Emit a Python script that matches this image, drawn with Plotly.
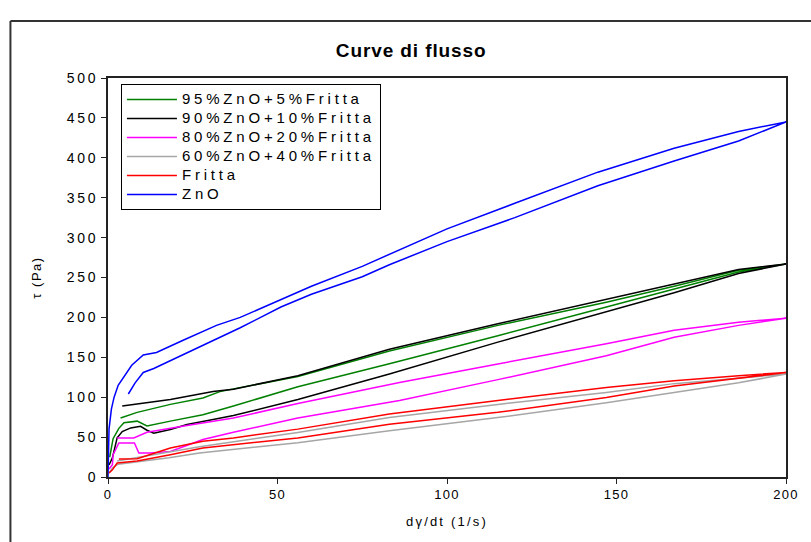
import plotly.graph_objects as go

# Flow curves (shear stress vs shear rate), each measured up to 200 1/s and back down.
# Up-ramp and down-ramp values are kept separately for every sample.

series_names = [
    "95%ZnO+5%Fritta",
    "90%ZnO+10%Fritta",
    "80%ZnO+20%Fritta",
    "60%ZnO+40%Fritta",
    "Fritta",
    "ZnO",
]
series_colors = ["#008000", "#000000", "#ff00ff", "#a6a6a6", "#ff0000", "#0000ff"]

# 95% ZnO + 5% Fritta
zf5_up_x = [0.5, 1.5, 3.2, 4.7, 8.6, 11.5, 18.4, 28, 37, 56, 83, 115, 147, 167, 186, 200]
zf5_up_y = [25, 48, 61, 68, 70, 64, 70, 78, 89, 113, 142, 177, 213, 236, 257, 267]
zf5_dn_x = [200, 186, 167, 147, 115, 83, 56, 33, 28, 18.4, 8.6, 3.7]
zf5_dn_y = [267, 259, 239, 219, 190, 158, 126, 107, 99, 91, 81, 74]

# 90% ZnO + 10% Fritta
zf10_up_x = [0.3, 1.3, 2.7, 4.2, 6.7, 9.6, 11.5, 13.5, 18.4, 23.3, 31, 37, 56, 83, 115, 147, 167, 186, 200]
zf10_up_y = [15, 24, 49, 57, 61.5, 63.5, 58.6, 55, 59.5, 65.7, 72, 77, 97, 129, 169, 207, 231, 255, 267]
zf10_dn_x = [200, 186, 167, 147, 115, 83, 56, 37, 31, 18.4, 4.2]
zf10_dn_y = [267, 260, 242, 223, 192, 160, 127, 110, 107, 97, 89]

# 80% ZnO + 20% Fritta
zf20_up_x = [0.3, 1.3, 1.5, 3.2, 7.8, 9.1, 12.5, 18.4, 28, 37, 56, 86, 115, 147, 167, 186, 200]
zf20_up_y = [10, 15.5, 28, 42.7, 42.7, 30, 30, 32, 47, 56, 74, 96, 122, 152, 175, 190, 199]
zf20_dn_x = [200, 186, 167, 147, 115, 86, 56, 37, 23.3, 11.5, 7.6, 2.7]
zf20_dn_y = [199, 194, 184, 167, 141.6, 118.5, 92, 74, 64.5, 56, 49, 49]

# 60% ZnO + 40% Fritta
zf40_up_x = [0.3, 1.5, 3, 8.6, 18, 27, 56, 83, 115, 147, 167, 186, 200]
zf40_up_y = [5, 12, 16, 19, 24, 30, 43, 58, 74.5, 93, 106, 118, 129]
zf40_dn_x = [200, 186, 167, 147, 115, 83, 56, 27, 8.6, 2.7]
zf40_dn_y = [129, 124, 117, 106, 91, 74.5, 55.7, 38, 25, 20]

# Fritta
fr_up_x = [0.3, 1.3, 2.7, 8.6, 18.4, 28, 56, 83, 115, 147, 167, 186, 200]
fr_up_y = [5, 9, 17.6, 20, 28, 36.4, 49, 66, 81, 99.6, 114, 124, 131]
fr_dn_x = [200, 186, 167, 147, 115, 83, 56, 37, 28, 18.4, 8.6, 3.2]
fr_dn_y = [131, 127, 120.6, 112, 96, 79, 60, 49, 44.8, 36.4, 23, 22.6]

# ZnO
zn_up_x = [0, 0.3, 1.0, 1.8, 3, 4.5, 7, 10.4, 14.3, 22, 26, 32, 39, 45, 51, 60, 75, 83, 100, 120, 144.5, 167, 186, 200]
zn_up_y = [0, 60, 85, 100, 115, 125, 140, 153, 156, 171, 179, 190, 200, 211, 223, 239, 264, 279, 311, 343, 382, 412, 433, 445]
zn_dn_x = [200, 186, 167, 144.5, 120, 100, 83, 75, 60, 51, 39, 32, 27, 17, 13.5, 10.4, 8, 6]
zn_dn_y = [445, 421, 396, 365, 325, 295, 266, 251, 229, 213, 187, 173, 163, 143, 136, 131, 118, 104]

loops = [
    (zf5_up_x, zf5_up_y, zf5_dn_x, zf5_dn_y),
    (zf10_up_x, zf10_up_y, zf10_dn_x, zf10_dn_y),
    (zf20_up_x, zf20_up_y, zf20_dn_x, zf20_dn_y),
    (zf40_up_x, zf40_up_y, zf40_dn_x, zf40_dn_y),
    (fr_up_x, fr_up_y, fr_dn_x, fr_dn_y),
    (zn_up_x, zn_up_y, zn_dn_x, zn_dn_y),
]

x_ticks = [0, 50, 100, 150, 200]
y_ticks = [0, 50, 100, 150, 200, 250, 300, 350, 400, 450, 500]

FONT = "Liberation Sans, Arial, sans-serif"


def spaced(text, px, size=None):
    style = f"letter-spacing:{px}px"
    if size:
        style += f";font-size:{size}px"
    return f'<span style="{style}">{text}</span>'


fig = go.Figure()
for name, color, (ux, uy, dx, dy) in zip(series_names, series_colors, loops):
    fig.add_trace(
        go.Scatter(
            x=ux + dx,
            y=uy + dy,
            mode="lines",
            name=spaced(name, 3.8, 15),
            line=dict(color=color, width=1.5),
        )
    )

W, H = 811, 542
L, R, T, B = 108, 22, 78, 65
pw, ph = W - L - R, H - T - B


def px_x(p):
    return (p - L) / pw


def px_y(p):
    return (H - B - p) / ph


# outer chart-area frame: only its top and left edges fall inside the page
frame_line = dict(color="#333", width=2)
frame = [
    dict(type="line", xref="paper", yref="paper",
         x0=px_x(10), x1=px_x(W + 5), y0=px_y(21), y1=px_y(21), line=frame_line),
    dict(type="line", xref="paper", yref="paper",
         x0=px_x(10), x1=px_x(10), y0=px_y(21), y1=px_y(H + 5), line=frame_line),
]

fig.update_layout(
    width=W,
    height=H,
    margin=dict(l=L, r=R, t=T, b=B),
    paper_bgcolor="white",
    plot_bgcolor="white",
    font=dict(family=FONT, color="black"),
    title=dict(
        text=spaced("<b>Curve di flusso</b>", 0.9),
        font=dict(size=19, family=FONT, color="black"),
        x=0.507,
        xref="container",
        y=1 - 50 / H,
        yref="container",
        yanchor="middle",
    ),
    showlegend=True,
    legend=dict(
        x=px_x(121),
        y=px_y(84),
        xanchor="left",
        yanchor="top",
        bgcolor="white",
        bordercolor="black",
        borderwidth=1,
        font=dict(size=12, family=FONT, color="black"),
        tracegroupgap=0,
        itemwidth=50,
    ),
    xaxis=dict(
        range=[0, 200],
        tickvals=x_ticks,
        ticktext=[spaced(str(v), 1.2) for v in x_ticks],
        ticks="outside",
        ticklen=5,
        tickcolor="#222",
        showline=True,
        linecolor="#222",
        linewidth=1.5,
        mirror=True,
        showgrid=False,
        zeroline=False,
        tickfont=dict(size=13, family=FONT),
        title=dict(text=spaced("dγ/dt (1/s)", 2.2), font=dict(size=13, family=FONT), standoff=16),
    ),
    yaxis=dict(
        range=[0, 500],
        tickvals=y_ticks,
        ticktext=[spaced(str(v), 2.8) for v in y_ticks],
        ticks="outside",
        ticklen=5,
        tickcolor="#222",
        showline=True,
        linecolor="#222",
        linewidth=1.5,
        mirror=True,
        showgrid=False,
        zeroline=False,
        tickfont=dict(size=14, family=FONT),
        title=dict(text=spaced("τ (Pa)", 1.5), font=dict(size=13, family=FONT), standoff=22),
    ),
    shapes=frame,
)

fig.write_html("out.html")
